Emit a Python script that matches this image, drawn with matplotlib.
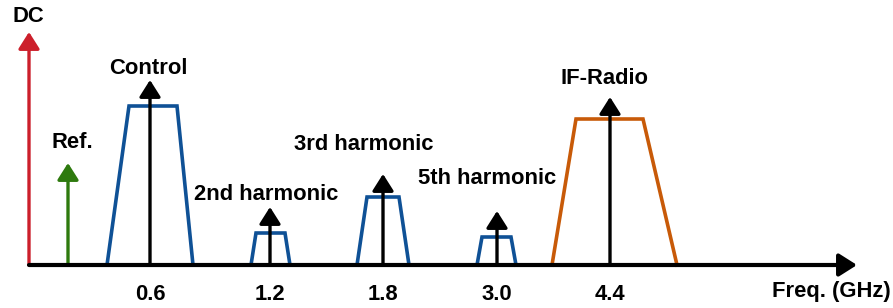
import matplotlib.pyplot as plt

# signals, schematic x position (diagram units) and arrow heights
signals = ["DC", "Ref.", "Control", "2nd harmonic", "3rd harmonic", "5th harmonic", "IF-Radio"]
sig_x = [29, 68, 150, 270, 383, 497, 610]
sig_h = [233, 102, 185, 58, 91, 54, 168]
sig_col = ["#CC1F2B", "#2E7A0E", "black", "black", "black", "black", "black"]
label_x = [28, 72, 148, 266, 364, 487, 605]
label_y = [248, 122, 196, 71, 120, 87, 186]

# bands: left base, left top, right top, right base, height
band_x = [
    [107, 129, 177, 193],
    [251, 256, 285, 290],
    [357, 367, 399, 409],
    [477, 482, 511, 516],
    [552, 576, 643, 677],
]
band_h = [159, 32, 68, 28, 146]
band_col = ["#0F5196", "#0F5196", "#0F5196", "#0F5196", "#C85A08"]

tick_pos = [150, 270, 383, 497, 610]
tick_lab = ["0.6", "1.2", "1.8", "3.0", "4.4"]

plt.rcParams["font.family"] = ["Liberation Sans", "DejaVu Sans"]
fig = plt.figure(figsize=(8.93, 3.08), dpi=100)
ax = fig.add_axes([0, 0, 1, 1])
ax.set_xlim(0, 893)
ax.set_ylim(-43, 265)
ax.axis("off")

astyle = "-|>,head_length=0.6,head_width=0.38"

for bx, bh, c in zip(band_x, band_h, band_col):
    ax.plot(bx, [0, bh, bh, 0], color=c, lw=2.6, solid_joinstyle="miter")

for x, h, c in zip(sig_x, sig_h, sig_col):
    ax.annotate("", xy=(x, h), xytext=(x, 0),
                arrowprops=dict(arrowstyle=astyle, color=c, lw=2.4,
                                mutation_scale=17, shrinkA=0, shrinkB=0))

# frequency axis
ax.annotate("", xy=(857, 0), xytext=(sig_x[0], 0),
            arrowprops=dict(arrowstyle=astyle, color="black", lw=3,
                            mutation_scale=18, shrinkA=0, shrinkB=0))

for s, lx, ly in zip(signals, label_x, label_y):
    ax.text(lx, ly, s, ha="center", va="center", fontsize=15.8, fontweight="bold")

for p, t in zip(tick_pos, tick_lab):
    ax.text(p, -29, t, ha="center", va="center", fontsize=15.8, fontweight="bold")

ax.text(831, -26, "Freq. (GHz)", ha="center", va="center", fontsize=15.8, fontweight="bold")

fig.savefig("out.png", dpi=100)
